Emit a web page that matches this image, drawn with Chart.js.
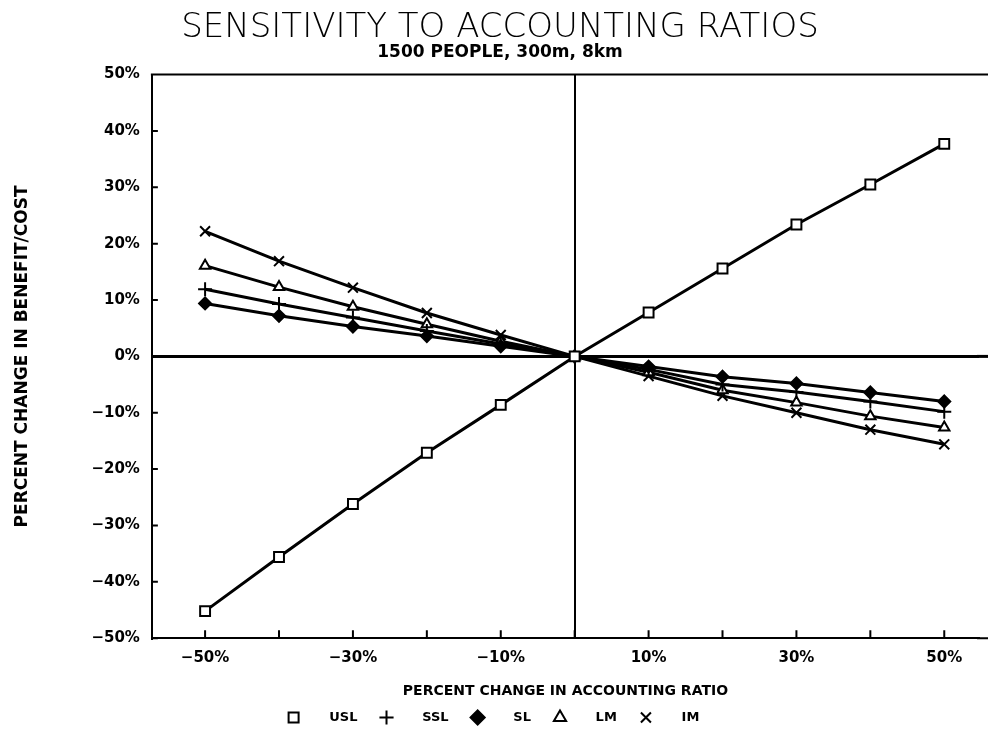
<!DOCTYPE html>
<html>
<head>
<meta charset="utf-8">
<script src="https://cdn.jsdelivr.net/npm/chart.js@4.4.0/dist/chart.umd.min.js"></script>
<style>
  html, body { margin: 0; padding: 0; background: #fff; }
  #wrap { width: 988px; height: 734px; }
</style>
</head>
<body>
<div id="wrap"><canvas id="myChart" width="988" height="734"></canvas></div>
<script>
"use strict";

// percent change in accounting ratio (x)
const ratioChange = [-50, -40, -30, -20, -10, 0, 10, 20, 30, 40, 50];

// percent change in benefit/cost for each series
const uslValues = [-45.2, -35.6, -26.2, -17.1, -8.6, 0, 7.8, 15.6, 23.4, 30.5, 37.7];
const sslValues = [11.9, 9.3, 6.9, 4.5, 2.2, 0, -2.3, -5.0, -6.3, -8.0, -9.8];
const slValues = [9.4, 7.2, 5.3, 3.6, 1.8, 0, -1.8, -3.6, -4.8, -6.4, -8.0];
const lmValues = [16.1, 12.3, 8.8, 5.7, 2.7, 0, -2.8, -6.0, -8.2, -10.6, -12.6];
const imValues = [22.2, 16.9, 12.2, 7.7, 3.8, 0, -3.5, -7.0, -10.0, -13.0, -15.6];

const seriesNames = ['USL', 'SSL', 'SL', 'LM', 'IM'];

// tick positions; x labels only on every other one
const xTicks = [-50, -40, -30, -20, -10, 0, 10, 20, 30, 40, 50];
const xTickLabels = [-50, -30, -10, 10, 30, 50];
const yTicks = [-50, -40, -30, -20, -10, 0, 10, 20, 30, 40, 50];

function pct(v) {
  return v < 0 ? '\u2212' + Math.abs(v) + '%' : v + '%';
}

function toPoints(values) {
  return values.map((v, i) => ({ x: ratioChange[i], y: v }));
}

function makeSet(label, values, style, radius, fill) {
  return {
    label: label,
    data: toPoints(values),
    borderColor: '#000',
    backgroundColor: fill,
    borderWidth: 3,
    pointStyle: style,
    pointRadius: radius,
    pointBorderWidth: 2,
    pointBorderColor: '#000',
    pointBackgroundColor: fill,
    tension: 0
  };
}

// inner tick marks, top frame line; the horizontal lines run on to the page edge
const frameTicks = {
  id: 'frameTicks',
  afterDraw(chart) {
    const ctx = chart.ctx;
    const a = chart.chartArea;
    const xs = chart.scales.x;
    const ys = chart.scales.y;
    ctx.save();
    ctx.strokeStyle = '#000';
    ctx.lineWidth = 2;
    ctx.beginPath();
    xTicks.forEach(v => {
      const px = xs.getPixelForValue(v);
      ctx.moveTo(px, a.bottom);
      ctx.lineTo(px, a.bottom - 8);
    });
    yTicks.forEach(v => {
      const py = ys.getPixelForValue(v);
      ctx.moveTo(a.left, py);
      ctx.lineTo(a.left + 6, py);
    });
    ctx.moveTo(a.left - 1, a.top);
    ctx.lineTo(chart.width, a.top);
    ctx.moveTo(a.right - 2, a.bottom);
    ctx.lineTo(chart.width, a.bottom);
    ctx.stroke();
    ctx.lineWidth = 3;
    ctx.beginPath();
    const zy = ys.getPixelForValue(0);
    ctx.moveTo(a.right - 2, zy);
    ctx.lineTo(chart.width, zy);
    ctx.stroke();
    ctx.restore();
  }
};

const ctx = document.getElementById('myChart').getContext('2d');
const labelFont = { family: 'DejaVu Sans', size: 15, weight: 'bold' };

new Chart(ctx, {
  type: 'line',
  data: {
    datasets: [
      makeSet(seriesNames[0], uslValues, 'rect', 7, '#fff'),
      makeSet(seriesNames[1], sslValues, 'cross', 7, '#fff'),
      makeSet(seriesNames[2], slValues, 'rectRot', 6, '#000'),
      makeSet(seriesNames[3], lmValues, 'triangle', 6, '#fff'),
      makeSet(seriesNames[4], imValues, 'crossRot', 7, '#fff')
    ]
  },
  options: {
    responsive: false,
    animation: false,
    layout: { padding: { left: 12, right: 0, top: 4, bottom: 0 } },
    scales: {
      x: {
        type: 'linear',
        min: -57.2,
        max: 54.7,
        afterBuildTicks: scale => { scale.ticks = xTicks.map(v => ({ value: v })); },
        ticks: {
          autoSkip: false,
          maxRotation: 0,
          padding: 11,
          color: '#000',
          font: labelFont,
          callback: v => xTickLabels.includes(v) ? pct(v) : ''
        },
        grid: {
          drawTicks: false,
          color: c => c.tick && c.tick.value === 0 ? '#000' : 'rgba(0,0,0,0)',
          lineWidth: 2
        },
        border: { display: true, color: '#000', width: 2 },
        title: {
          display: true,
          text: 'PERCENT CHANGE IN ACCOUNTING RATIO',
          color: '#000',
          font: { family: 'DejaVu Sans', size: 14, weight: 'bold' },
          padding: { top: 5, bottom: 2 }
        }
      },
      y: {
        type: 'linear',
        min: -50,
        max: 50,
        afterBuildTicks: scale => { scale.ticks = yTicks.map(v => ({ value: v })); },
        ticks: {
          padding: 12,
          color: '#000',
          font: labelFont,
          callback: v => pct(v)
        },
        grid: {
          drawTicks: false,
          color: c => c.tick && c.tick.value === 0 ? '#000' : 'rgba(0,0,0,0)',
          lineWidth: 3
        },
        border: { display: true, color: '#000', width: 2 },
        title: {
          display: true,
          text: 'PERCENT CHANGE IN BENEFIT/COST',
          color: '#000',
          font: { family: 'DejaVu Sans', size: 17, weight: 'bold' },
          padding: { top: 0, bottom: 47 }
        }
      }
    },
    plugins: {
      title: {
        display: true,
        text: 'SENSITIVITY TO ACCOUNTING RATIOS',
        color: '#000',
        font: { family: 'DejaVu Sans', size: 34, weight: 300, lineHeight: 0.9 },
        padding: { top: 9, bottom: 0 }
      },
      subtitle: {
        display: true,
        text: '1500 PEOPLE, 300m, 8km',
        color: '#000',
        font: { family: 'DejaVu Sans', size: 17, weight: 'bold', lineHeight: 1 },
        padding: { top: 0, bottom: 14 }
      },
      legend: {
        position: 'bottom',
        labels: {
          usePointStyle: true,
          boxHeight: 10,
          padding: 9,
          color: '#000',
          font: { family: 'DejaVu Sans', size: 13, weight: 'bold' },
          // leave a wide gap between the marker and its name, like the original
          generateLabels: chart => {
            const items = Chart.defaults.plugins.legend.labels.generateLabels(chart);
            items.forEach(it => { it.text = '     ' + it.text + '   '; });
            return items;
          }
        }
      },
      tooltip: { enabled: false }
    }
  },
  plugins: [frameTicks]
});
</script>
</body>
</html>
